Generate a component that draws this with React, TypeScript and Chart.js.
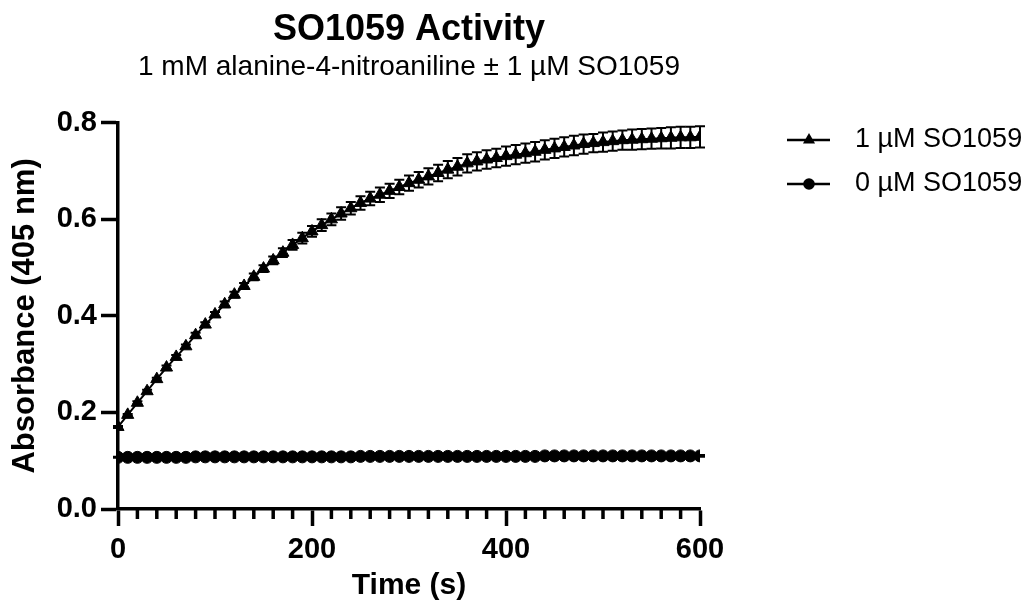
import React, { useEffect, useRef } from 'react';
import { Chart, registerables } from 'chart.js';

Chart.register(...registerables);

const FONT = '"Liberation Sans", Arial, Helvetica, sans-serif';

// Sampling times (s)
const timeSec = [
  0, 10, 20, 30, 40, 50, 60, 70, 80, 90,
  100, 110, 120, 130, 140, 150, 160, 170, 180, 190,
  200, 210, 220, 230, 240, 250, 260, 270, 280, 290,
  300, 310, 320, 330, 340, 350, 360, 370, 380, 390,
  400, 410, 420, 430, 440, 450, 460, 470, 480, 490,
  500, 510, 520, 530, 540, 550, 560, 570, 580, 590,
  600,
];

// Absorbance at 405 nm with 1 µM SO1059 (mean)
const enzymeMean = [
  0.170, 0.195, 0.220, 0.244, 0.269, 0.293, 0.315, 0.337, 0.360, 0.382,
  0.403, 0.424, 0.444, 0.462, 0.481, 0.498, 0.515, 0.531, 0.547, 0.561,
  0.575, 0.588, 0.600, 0.612, 0.623, 0.634, 0.643, 0.651, 0.659, 0.667,
  0.675, 0.682, 0.689, 0.696, 0.703, 0.709, 0.716, 0.720, 0.724, 0.727,
  0.731, 0.734, 0.737, 0.740, 0.744, 0.747, 0.750, 0.753, 0.756, 0.758,
  0.760, 0.762, 0.764, 0.765, 0.766, 0.767, 0.768, 0.769, 0.770, 0.770,
  0.771,
];

// Standard deviation, 1 µM SO1059
const enzymeSD = [
  0.002, 0.002, 0.003, 0.003, 0.003, 0.004, 0.004, 0.004, 0.005, 0.005,
  0.005, 0.006, 0.006, 0.006, 0.007, 0.007, 0.008, 0.009, 0.010, 0.011,
  0.011, 0.012, 0.012, 0.013, 0.013, 0.014, 0.014, 0.015, 0.015, 0.015,
  0.016, 0.016, 0.017, 0.017, 0.018, 0.018, 0.019, 0.019, 0.019, 0.019,
  0.020, 0.020, 0.020, 0.020, 0.020, 0.020, 0.020, 0.020, 0.020, 0.019,
  0.020, 0.020, 0.020, 0.021, 0.021, 0.021, 0.021, 0.022, 0.022, 0.022,
  0.022,
];

// Absorbance at 405 nm without enzyme (mean)
const blankMean = [
  0.107, 0.107, 0.107, 0.107, 0.107, 0.107, 0.107, 0.107, 0.108, 0.108,
  0.108, 0.108, 0.108, 0.108, 0.108, 0.108, 0.108, 0.108, 0.108, 0.108,
  0.108, 0.108, 0.108, 0.108, 0.108, 0.109, 0.109, 0.109, 0.109, 0.109,
  0.109, 0.109, 0.109, 0.109, 0.109, 0.109, 0.109, 0.109, 0.109, 0.109,
  0.109, 0.109, 0.109, 0.109, 0.110, 0.110, 0.110, 0.110, 0.110, 0.110,
  0.110, 0.110, 0.110, 0.110, 0.110, 0.110, 0.110, 0.110, 0.110, 0.110,
  0.110,
];

// Standard deviation, no enzyme
const blankSD = [
  0.001, 0.001, 0.001, 0.001, 0.001, 0.001, 0.001, 0.001, 0.001, 0.001,
  0.001, 0.001, 0.001, 0.001, 0.001, 0.001, 0.001, 0.001, 0.001, 0.001,
  0.001, 0.001, 0.001, 0.001, 0.001, 0.001, 0.001, 0.001, 0.001, 0.001,
  0.002, 0.002, 0.002, 0.002, 0.002, 0.002, 0.002, 0.002, 0.002, 0.002,
  0.002, 0.002, 0.002, 0.002, 0.002, 0.002, 0.002, 0.002, 0.002, 0.002,
  0.002, 0.002, 0.002, 0.002, 0.002, 0.002, 0.002, 0.002, 0.002, 0.002,
  0.002,
];

const seriesLabels = ['1 µM SO1059', '0 µM SO1059'];
const seriesSD = [enzymeSD, blankSD];
const seriesStyles = ['triangle', 'circle'];

const titleText = 'SO1059 Activity';
const subtitleText = '1 mM alanine-4-nitroaniline ± 1 µM SO1059';
const xTitle = 'Time (s)';
const yTitle = 'Absorbance (405 nm)';

// Mean ± SD whiskers, drawn beneath the markers
const errorBarPlugin = {
  id: 'errorBars',
  beforeDatasetsDraw(chart: any) {
    const { ctx } = chart;
    const xs = chart.scales.x;
    const ys = chart.scales.y;
    chart.data.datasets.forEach((ds: any, di: number) => {
      const sd = seriesSD[di];
      ctx.save();
      ctx.strokeStyle = '#000';
      ctx.lineWidth = 2;
      ds.data.forEach((pt: any, i: number) => {
        const px = xs.getPixelForValue(pt.x);
        const top = ys.getPixelForValue(pt.y + sd[i]);
        const bot = ys.getPixelForValue(pt.y - sd[i]);
        ctx.beginPath();
        ctx.moveTo(px, top);
        ctx.lineTo(px, bot);
        ctx.moveTo(px - 5, top);
        ctx.lineTo(px + 5, top);
        ctx.moveTo(px - 5, bot);
        ctx.lineTo(px + 5, bot);
        ctx.stroke();
      });
      ctx.restore();
    });
  },
};

// Short minor ticks every 20 s on the time axis
const minorTickPlugin = {
  id: 'minorTicks',
  afterDraw(chart: any) {
    const { ctx } = chart;
    const xs = chart.scales.x;
    const yBase = chart.chartArea.bottom;
    ctx.save();
    ctx.strokeStyle = '#000';
    ctx.lineWidth = 3.5;
    xs.ticks.forEach((t: any) => {
      if (t.value % 200 === 0) return;
      const px = xs.getPixelForValue(t.value);
      ctx.beginPath();
      ctx.moveTo(px, yBase);
      ctx.lineTo(px, yBase + 10);
      ctx.stroke();
    });
    ctx.restore();
  },
};

function drawMarker(ctx: CanvasRenderingContext2D, style: string, x: number, y: number, r: number) {
  ctx.beginPath();
  if (style === 'triangle') {
    const a = (2 * Math.PI) / 3;
    ctx.moveTo(x, y - r);
    ctx.lineTo(x + Math.sin(a) * r, y - Math.cos(a) * r);
    ctx.lineTo(x + Math.sin(2 * a) * r, y - Math.cos(2 * a) * r);
    ctx.closePath();
  } else {
    ctx.arc(x, y, r, 0, Math.PI * 2);
  }
  ctx.fill();
}

// Legend at the right: line segment with marker, then the series name
const sideLegendPlugin = {
  id: 'sideLegend',
  afterDraw(chart: any) {
    const { ctx, chartArea } = chart;
    const x0 = chartArea.right + 87;
    const rowY = [140, 184];
    ctx.save();
    ctx.fillStyle = '#000';
    ctx.strokeStyle = '#000';
    ctx.lineWidth = 2.5;
    seriesLabels.forEach((label, i) => {
      const y = rowY[i];
      ctx.beginPath();
      ctx.moveTo(x0, y);
      ctx.lineTo(x0 + 43, y);
      ctx.stroke();
      drawMarker(ctx, seriesStyles[i], x0 + 22, y, seriesStyles[i] === 'triangle' ? 7 : 5.8);
      ctx.font = `27px ${FONT}`;
      ctx.textBaseline = 'middle';
      ctx.textAlign = 'left';
      ctx.fillText(label, x0 + 68, y);
    });
    ctx.restore();
  },
};

export default function App() {
  const canvasRef = useRef<HTMLCanvasElement | null>(null);

  useEffect(() => {
    const canvas = canvasRef.current;
    if (!canvas) return;
    const toPoints = (ys: number[]) => timeSec.map((t, i) => ({ x: t, y: ys[i] }));

    const chart = new Chart(canvas, {
      type: 'line',
      data: {
        datasets: [
          {
            label: seriesLabels[0],
            data: toPoints(enzymeMean),
            borderColor: '#000',
            backgroundColor: '#000',
            borderWidth: 2,
            pointStyle: 'triangle',
            pointRadius: 7,
            pointBorderWidth: 1,
            pointBackgroundColor: '#000',
            pointBorderColor: '#000',
            tension: 0,
          },
          {
            label: seriesLabels[1],
            data: toPoints(blankMean),
            borderColor: '#000',
            backgroundColor: '#000',
            borderWidth: 2,
            pointStyle: 'circle',
            pointRadius: 6,
            pointBorderWidth: 1,
            pointBackgroundColor: '#000',
            pointBorderColor: '#000',
            tension: 0,
          },
        ],
      },
      options: {
        animation: false,
        responsive: false,
        devicePixelRatio: 1,
        events: [],
        layout: { padding: { top: 0, right: 330, bottom: 0, left: 0 } },
        plugins: {
          legend: { display: false },
          tooltip: { enabled: false },
          title: {
            display: true,
            text: titleText,
            color: '#000',
            fullSize: false,
            font: { family: FONT, size: 36, weight: 'bold', lineHeight: 1.1 },
            padding: { top: 10, bottom: 0 },
          },
          subtitle: {
            display: true,
            text: subtitleText,
            color: '#000',
            fullSize: false,
            font: { family: FONT, size: 28, lineHeight: 1.2 },
            padding: { top: 1, bottom: 38.6 },
          },
        },
        scales: {
          x: {
            type: 'linear',
            position: 'bottom',
            min: 0,
            max: 600,
            border: { display: true, color: '#000', width: 3.5 },
            grid: {
              drawOnChartArea: false,
              drawTicks: true,
              tickLength: 17,
              tickWidth: 3.5,
              tickColor: (c: any) => (c.tick && c.tick.value % 200 === 0 ? '#000' : 'rgba(0,0,0,0)'),
            },
            ticks: {
              stepSize: 20,
              autoSkip: false,
              maxRotation: 0,
              color: '#000',
              padding: 7,
              font: { family: FONT, size: 29, weight: 'bold' },
              callback: (v: any) => (Number(v) % 200 === 0 ? String(v) : ''),
            },
            title: {
              display: true,
              text: xTitle,
              color: '#000',
              font: { family: FONT, size: 30, weight: 'bold', lineHeight: 1.2 },
              padding: { top: 0, bottom: 8 },
            },
            afterFit: (s: any) => {
              s.height = 103;
            },
          },
          y: {
            type: 'linear',
            min: 0,
            max: 0.8,
            border: { display: true, color: '#000', width: 3.5 },
            grid: {
              drawOnChartArea: false,
              drawTicks: true,
              tickLength: 17,
              tickWidth: 3.5,
              tickColor: '#000',
            },
            ticks: {
              stepSize: 0.2,
              color: '#000',
              padding: 4,
              font: { family: FONT, size: 29, weight: 'bold' },
              callback: (v: any) => Number(v).toFixed(1),
            },
            title: {
              display: true,
              text: yTitle,
              color: '#000',
              font: { family: FONT, size: 31, weight: 'bold', lineHeight: 1.2 },
              padding: { top: 7, bottom: 0 },
            },
            afterFit: (s: any) => {
              s.width = 118;
            },
          },
        },
      } as any,
      plugins: [errorBarPlugin, minorTickPlugin, sideLegendPlugin],
    });

    return () => chart.destroy();
  }, []);

  return (
    <div style={{ position: 'fixed', left: 0, top: 0, width: 1030, height: 612, background: '#fff' }}>
      <canvas ref={canvasRef} width={1030} height={612} />
    </div>
  );
}
